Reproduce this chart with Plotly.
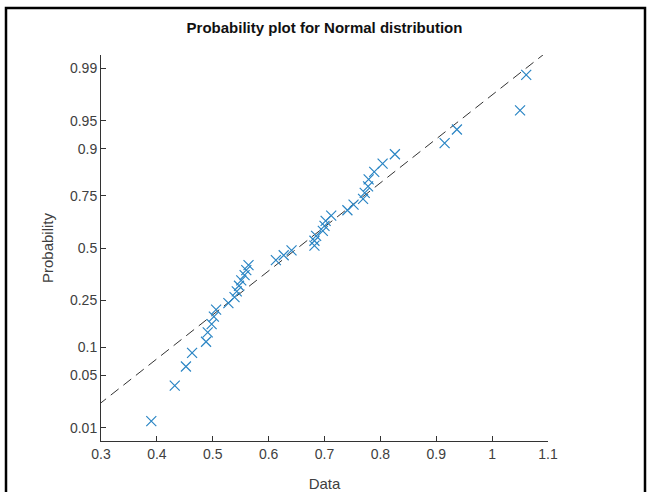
import plotly.graph_objects as go
from statistics import NormalDist

# ---- data (sorted sample values) ----
data_values = [
    0.390, 0.432, 0.452, 0.463, 0.488, 0.491, 0.498, 0.502, 0.506, 0.528,
    0.539, 0.543, 0.547, 0.551, 0.557, 0.560, 0.564, 0.613, 0.627, 0.641,
    0.682, 0.682, 0.685, 0.697, 0.700, 0.702, 0.712, 0.741, 0.752, 0.769,
    0.772, 0.778, 0.779, 0.789, 0.804, 0.826, 0.915, 0.937, 1.050, 1.061,
]

prob_ticks = [0.01, 0.05, 0.1, 0.25, 0.5, 0.75, 0.9, 0.95, 0.99]
prob_labels = ["0.01", "0.05", "0.1", "0.25", "0.5", "0.75", "0.9", "0.95", "0.99"]
x_ticks = [0.3, 0.4, 0.5, 0.6, 0.7, 0.8, 0.9, 1.0, 1.1]
x_labels = ["0.3", "0.4", "0.5", "0.6", "0.7", "0.8", "0.9", "1", "1.1"]

title_text = "Probability plot for Normal distribution"
x_title = "Data"
y_title = "Probability"

# ---- computations (normal probability scale) ----
nd = NormalDist()
xs = sorted(data_values)
n = len(xs)
z_pts = [nd.inv_cdf((i - 0.5) / n) for i in range(1, n + 1)]
z_ticks = [nd.inv_cdf(p) for p in prob_ticks]


def prctile(v, p):
    # MATLAB-style percentile
    pos = p / 100.0 * n + 0.5
    if pos <= 1:
        return v[0]
    if pos >= n:
        return v[-1]
    lo = int(pos)
    frac = pos - lo
    return v[lo - 1] + frac * (v[lo] - v[lo - 1])


q1, q3 = prctile(xs, 25), prctile(xs, 75)
z1, z3 = nd.inv_cdf(0.25), nd.inv_cdf(0.75)
slope = (z3 - z1) / (q3 - q1)
line_x = [0.25, 1.15]
line_z = [z1 + slope * (x - q1) for x in line_x]

ylim = -nd.inv_cdf(0.25 / n)

font_family = "Liberation Sans, Arial, Helvetica, sans-serif"
axis_color = "#333333"
label_color = "#404040"

fig = go.Figure()
fig.add_trace(go.Scatter(
    x=line_x, y=line_z, mode="lines",
    line=dict(color="#333333", width=1, dash="10px,6px"),
    hoverinfo="skip", showlegend=False,
))
fig.add_trace(go.Scatter(
    x=xs, y=z_pts, mode="markers",
    marker=dict(symbol="x-thin-open", size=10, color="#2a85c4",
                line=dict(color="#2a85c4", width=1.2)),
    showlegend=False,
))

fig.update_layout(
    width=650, height=492,
    margin=dict(l=101, r=102, t=55, b=51),
    paper_bgcolor="white", plot_bgcolor="white",
    font=dict(family=font_family, size=14, color=label_color),
    title=dict(text="<b>" + title_text + "</b>", x=(101 + 548) / 2 / 650, xanchor="center",
               y=1 - 28 / 492, yanchor="middle",
               font=dict(size=15, color="#111111", family=font_family)),
    xaxis=dict(
        range=[0.3, 1.1], tickvals=x_ticks, ticktext=x_labels, automargin=False,
        showgrid=False, zeroline=False, showline=True, linecolor=axis_color, linewidth=1,
        ticks="inside", ticklen=5, tickcolor=axis_color, tickfont=dict(size=14),
        title=dict(text=x_title, standoff=20, font=dict(size=15)),
    ),
    yaxis=dict(
        range=[-ylim, ylim], tickvals=z_ticks, ticktext=prob_labels, automargin=False,
        showgrid=False, zeroline=False, showline=True, linecolor=axis_color, linewidth=1,
        ticks="inside", ticklen=5, tickcolor=axis_color, tickfont=dict(size=14),
        title=dict(text=y_title, standoff=12, font=dict(size=15)),
    ),
    shapes=[dict(
        type="rect", xref="paper", yref="paper",
        x0=(6 - 101) / 447, x1=(645 - 101) / 447,
        y0=(441 - 510) / 386, y1=(441 - 8) / 386,
        line=dict(color="#000000", width=2.5), fillcolor="rgba(0,0,0,0)", layer="below",
    )],
)

fig.write_html("out.html")
